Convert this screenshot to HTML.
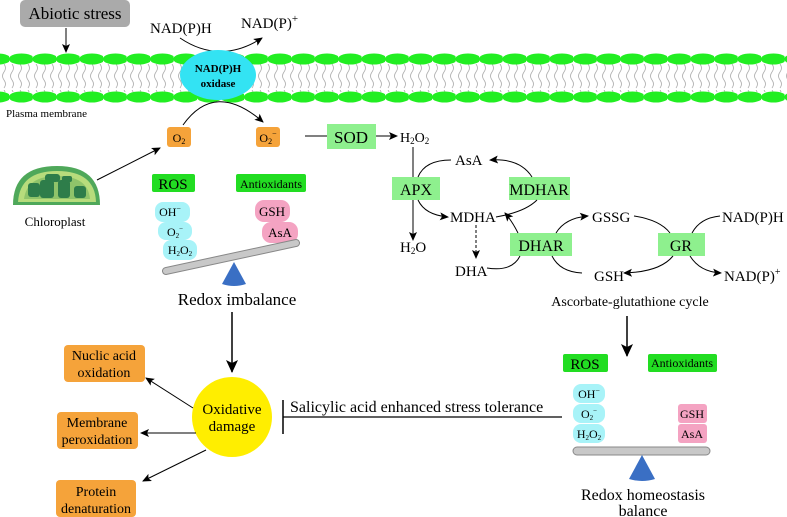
<!DOCTYPE html>
<html><head><meta charset="utf-8"><style>
html,body{margin:0;padding:0;background:#fff;}
svg{display:block;font-family:"Liberation Serif",serif;}
</style></head><body>
<svg width="787" height="517" viewBox="0 0 787 517" xmlns="http://www.w3.org/2000/svg">
<defs>
<marker id="a" markerWidth="10" markerHeight="10" refX="8" refY="5" orient="auto" markerUnits="userSpaceOnUse"><path d="M0,1 L9,5 L0,9 L2,5z" fill="#000"/></marker>
<marker id="b" markerWidth="14" markerHeight="14" refX="12" refY="7" orient="auto" markerUnits="userSpaceOnUse"><path d="M0,1 L13,7 L0,13 L3,7z" fill="#000"/></marker>
<pattern id="tp" x="2" y="64" width="8" height="26" patternUnits="userSpaceOnUse">
<path d="M2,0 q3,4 0,8 q-3,4 0,8 q3,4 0,8" fill="none" stroke="#aaa" stroke-width="0.8"/>
</pattern>
<pattern id="hp" x="-14.5" y="0" width="23.5" height="120" patternUnits="userSpaceOnUse">
<ellipse cx="12.5" cy="59" rx="12.8" ry="5.5" fill="#22ee22"/>
<ellipse cx="12.5" cy="97" rx="12.8" ry="5.5" fill="#22ee22"/>
</pattern>
</defs>
<rect x="0" y="64" width="787" height="28" fill="url(#tp)"/>
<rect x="0" y="50" width="787" height="55" fill="url(#hp)"/>
<rect x="20" y="0" width="110" height="27" rx="5" fill="#aaa"/>
<text x="75" y="19" font-size="17" text-anchor="middle">Abiotic stress</text>
<line x1="66" y1="28" x2="66" y2="52" stroke="#000" marker-end="url(#a)"/>
<text x="150" y="33" font-size="15">NAD(P)H</text>
<text x="241" y="28" font-size="15">NAD(P)<tspan dy="-6" font-size="11">+</tspan></text>
<path d="M180,38 Q220,65 262,38" fill="none" stroke="#000" marker-end="url(#a)"/>
<ellipse cx="218" cy="75" rx="38" ry="25" fill="#33e3f3"/>
<text x="218" y="72" font-size="11" font-weight="bold" text-anchor="middle">NAD(P)H</text>
<text x="218" y="87" font-size="11" font-weight="bold" text-anchor="middle">oxidase</text>
<text x="6" y="117" font-size="11">Plasma membrane</text>
<path d="M183,125 Q215,80 263,122" fill="none" stroke="#000" marker-end="url(#a)"/>
<rect x="167" y="127" width="24" height="20" rx="3" fill="#f5a33a"/>
<text x="179" y="142" font-size="12" text-anchor="middle">O<tspan font-size="8" dy="2">2</tspan></text>
<rect x="256" y="127" width="24" height="20" rx="3" fill="#f5a33a"/>
<text x="268" y="142" font-size="12" text-anchor="middle">O<tspan font-size="8" dy="2">2</tspan><tspan font-size="8" dy="-8">−</tspan></text>
<line x1="305" y1="136" x2="327" y2="136" stroke="#000"/>
<rect x="327" y="124" width="49" height="25" fill="#8ef08e"/>
<text x="351" y="143" font-size="17" text-anchor="middle">SOD</text>
<line x1="376" y1="136" x2="397" y2="136" stroke="#000" marker-end="url(#a)"/>
<path d="M13,205 Q13,166 57,166 Q100,166 100,205 Z" fill="#4fa85a"/>
<path d="M18,202 Q20,171 57,171 Q95,171 96,202 Z" fill="#b7dc7c"/>
<path d="M24,199 Q27,176 57,176 Q88,176 90,199 Z" fill="#8fc46a"/>
<g fill="#2e7d4a"><rect x="28" y="183" width="12" height="14" rx="3"/><rect x="40" y="180" width="14" height="18" rx="3"/><rect x="45" y="174" width="15" height="8" rx="3"/><rect x="58" y="180" width="12" height="18" rx="3"/><rect x="62" y="176" width="10" height="6" rx="2"/><rect x="74" y="186" width="12" height="12" rx="3"/></g>
<text x="55" y="226" font-size="13" text-anchor="middle">Chloroplast</text>
<line x1="97" y1="180" x2="160" y2="148" stroke="#000" marker-end="url(#a)"/>
<rect x="152" y="174" width="43" height="18" rx="2" fill="#22dd22"/>
<text x="173" y="189" font-size="15" text-anchor="middle">ROS</text>
<rect x="236" y="174" width="70" height="18" rx="2" fill="#22dd22"/>
<text x="271" y="188" font-size="12" text-anchor="middle">Antioxidants</text>
<rect x="155" y="202" width="35" height="20" rx="8" fill="#a8f3f8"/>
<text x="170" y="216" font-size="12" text-anchor="middle">OH<tspan font-size="8" dy="-5">−</tspan></text>
<rect x="158" y="222" width="34" height="18" rx="8" fill="#a8f3f8"/>
<text x="175" y="236" font-size="12" text-anchor="middle">O<tspan font-size="7" dy="2">2</tspan><tspan font-size="7" dy="-7">−</tspan></text>
<rect x="163" y="240" width="34" height="20" rx="8" fill="#a8f3f8"/>
<text x="180" y="254" font-size="12" text-anchor="middle">H<tspan font-size="7" dy="2">2</tspan><tspan dy="-2">O</tspan><tspan font-size="7" dy="2">2</tspan></text>
<rect x="255" y="200" width="35" height="22" rx="9" fill="#f4a3c2"/>
<text x="272" y="216" font-size="13" text-anchor="middle">GSH</text>
<rect x="262" y="222" width="36" height="21" rx="9" fill="#f4a3c2"/>
<text x="280" y="237" font-size="13" text-anchor="middle">AsA</text>
<line x1="166" y1="271" x2="296" y2="243" stroke="#888" stroke-width="8" stroke-linecap="round"/>
<line x1="166" y1="271" x2="296" y2="243" stroke="#c8c8c8" stroke-width="6" stroke-linecap="round"/>
<path d="M234,262 L246,284 Q234,288 222,284 Z" fill="#3a6fc4"/>
<text x="237" y="305" font-size="17" text-anchor="middle">Redox imbalance</text>
<text x="400" y="142" font-size="14">H<tspan font-size="9" dy="2">2</tspan><tspan dy="-2">O</tspan><tspan font-size="9" dy="2">2</tspan></text>
<line x1="413" y1="147" x2="413" y2="240" stroke="#000" marker-end="url(#a)"/>
<rect x="392" y="177" width="48" height="23" fill="#8ef08e"/>
<text x="416" y="195" font-size="16" text-anchor="middle">APX</text>
<rect x="509" y="177" width="61" height="23" fill="#8ef08e"/>
<text x="539" y="195" font-size="16" text-anchor="middle">MDHAR</text>
<rect x="510" y="233" width="62" height="23" fill="#8ef08e"/>
<text x="541" y="251" font-size="16" text-anchor="middle">DHAR</text>
<rect x="658" y="233" width="47" height="23" fill="#8ef08e"/>
<text x="681" y="251" font-size="16" text-anchor="middle">GR</text>
<text x="455" y="165" font-size="15">AsA</text>
<text x="450" y="222" font-size="15">MDHA</text>
<text x="400" y="252" font-size="15">H<tspan font-size="9" dy="2">2</tspan><tspan dy="-2">O</tspan></text>
<text x="455" y="276" font-size="15">DHA</text>
<text x="592" y="222" font-size="15">GSSG</text>
<text x="594" y="281" font-size="15">GSH</text>
<text x="722" y="222" font-size="15">NAD(P)H</text>
<text x="724" y="281" font-size="15">NAD(P)<tspan font-size="10" dy="-6">+</tspan></text>
<text x="630" y="306" font-size="14" text-anchor="middle">Ascorbate-glutathione cycle</text>
<g fill="none" stroke="#000">
<path d="M418,177 Q425,160 451,160"/>
<path d="M532,177 Q520,158 490,160" marker-end="url(#a)"/>
<path d="M418,200 Q425,215 448,217" marker-end="url(#a)"/>
<path d="M496,217 Q525,212 537,200"/>
<line x1="476" y1="225" x2="476" y2="258" stroke-dasharray="3,2" marker-end="url(#a)"/>
<path d="M487,268 Q512,272 520,256"/>
<path d="M518,233 Q512,221 505,213" marker-end="url(#a)"/>
<path d="M556,233 Q565,218 588,216" marker-end="url(#a)"/>
<path d="M552,256 Q560,272 582,273"/>
<path d="M634,216 Q660,220 670,233"/>
<path d="M692,233 Q700,218 720,216"/>
<path d="M673,256 Q660,272 624,273" marker-end="url(#a)"/>
<path d="M690,256 Q700,272 721,273" marker-end="url(#a)"/>
</g>
<line x1="232" y1="312" x2="232" y2="372" stroke="#000" stroke-width="1.5" marker-end="url(#b)"/>
<circle cx="232" cy="417" r="40" fill="#ffee00"/>
<text x="232" y="414" font-size="15" text-anchor="middle">Oxidative</text>
<text x="232" y="431" font-size="15" text-anchor="middle">damage</text>
<rect x="64" y="345" width="81" height="37" rx="4" fill="#f5a33a"/>
<text x="104" y="360" font-size="14" text-anchor="middle">Nuclic acid</text>
<text x="104" y="377" font-size="14" text-anchor="middle">oxidation</text>
<rect x="57" y="412" width="81" height="37" rx="4" fill="#f5a33a"/>
<text x="97" y="427" font-size="14" text-anchor="middle">Membrane</text>
<text x="97" y="444" font-size="14" text-anchor="middle">peroxidation</text>
<rect x="56" y="480" width="80" height="37" rx="4" fill="#f5a33a"/>
<text x="96" y="496" font-size="14" text-anchor="middle">Protein</text>
<text x="96" y="513" font-size="14" text-anchor="middle">denaturation</text>
<line x1="193" y1="408" x2="146" y2="378" stroke="#000" marker-end="url(#a)"/>
<line x1="196" y1="433" x2="141" y2="433" stroke="#000" marker-end="url(#a)"/>
<line x1="206" y1="450" x2="143" y2="481" stroke="#000" marker-end="url(#a)"/>
<line x1="283" y1="417" x2="562" y2="417" stroke="#000" stroke-width="1.2"/>
<line x1="283" y1="400" x2="283" y2="434" stroke="#000" stroke-width="1.5"/>
<text x="290" y="412" font-size="16">Salicylic acid enhanced stress tolerance</text>
<line x1="627" y1="316" x2="627" y2="356" stroke="#000" stroke-width="1.5" marker-end="url(#b)"/>
<rect x="563" y="354" width="45" height="18" rx="2" fill="#22dd22"/>
<text x="585" y="369" font-size="15" text-anchor="middle">ROS</text>
<rect x="648" y="354" width="69" height="18" rx="2" fill="#22dd22"/>
<text x="682" y="367" font-size="12" text-anchor="middle">Antioxidants</text>
<rect x="573" y="384" width="32" height="19" rx="8" fill="#a8f3f8"/>
<text x="589" y="398" font-size="12" text-anchor="middle">OH<tspan font-size="8" dy="-5">−</tspan></text>
<rect x="573" y="404" width="32" height="19" rx="8" fill="#a8f3f8"/>
<text x="589" y="418" font-size="12" text-anchor="middle">O<tspan font-size="7" dy="2">2</tspan><tspan font-size="7" dy="-7">−</tspan></text>
<rect x="573" y="424" width="32" height="19" rx="8" fill="#a8f3f8"/>
<text x="589" y="438" font-size="12" text-anchor="middle">H<tspan font-size="7" dy="2">2</tspan><tspan dy="-2">O</tspan><tspan font-size="7" dy="2">2</tspan></text>
<rect x="678" y="404" width="29" height="19" rx="3" fill="#f4a3c2"/>
<text x="692" y="418" font-size="12" text-anchor="middle">GSH</text>
<rect x="678" y="424" width="29" height="19" rx="3" fill="#f4a3c2"/>
<text x="692" y="438" font-size="12" text-anchor="middle">AsA</text>
<rect x="573" y="447" width="137" height="8" rx="4" fill="#c8c8c8" stroke="#888"/>
<path d="M642,455 L655,479 Q642,483 629,479 Z" fill="#3a6fc4"/>
<text x="643" y="500" font-size="16" text-anchor="middle">Redox homeostasis</text>
<text x="643" y="516" font-size="16" text-anchor="middle">balance</text>
</svg>
</body></html>
